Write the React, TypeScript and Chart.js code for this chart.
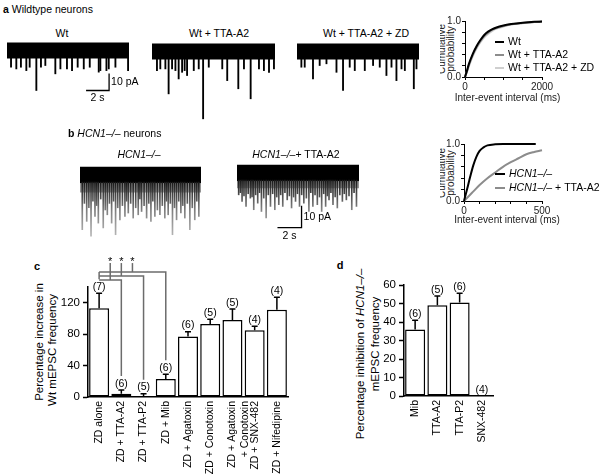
import React, { useEffect, useRef } from 'react';
import { Chart, registerables } from 'chart.js';

Chart.register(...registerables);
const FONT = 'Arial, "Liberation Sans", Helvetica, sans-serif';
Chart.defaults.font.family = FONT;
Chart.defaults.color = '#000';

// ---------------- data ----------------
// panel a traces: spike times (s) and amplitudes (pA, downward)
const wtTimes = [0.35, 0.81, 1.21, 1.68, 1.97, 2.55, 2.95, 3.33, 4.2, 4.64, 5.21, 5.65, 6.14, 6.67, 7.19, 7.97, 8.11, 8.64, 8.84, 9.42, 10.52];
const wtAmps = [9.8, 10.8, 9.8, 11.8, 9.8, 23.5, 9.8, 8.8, 13.7, 10.8, 10.8, 11.8, 9.8, 10.8, 9.8, 12.7, 11.8, 11.8, 10.8, 9.8, 11.8];
const wtTtaTimes = [0.43, 0.72, 1.16, 1.44, 1.74, 2.03, 2.31, 2.61, 2.83, 3.04, 3.62, 4.05, 4.43, 4.92, 6.09, 6.52, 7.48, 7.97, 8.55, 9.27, 9.7, 10.14, 10.57];
const wtTtaAmps = [11.2, 10.2, 10.2, 24.9, 10.2, 11.2, 16.1, 12.2, 11.2, 14.1, 11.2, 10.2, 39.6, 9.2, 10.2, 17.1, 21.9, 10.2, 27.8, 10.2, 11.2, 12.2, 10.2];
const wtTtaZdTimes = [0.38, 0.67, 1.39, 1.97, 2.56, 3.43, 4.0, 4.58, 5.02, 5.89, 6.61, 7.19, 7.77, 8.21, 8.64, 9.08, 9.37, 10.15, 10.38];
const wtTtaZdAmps = [9.2, 9.2, 16.1, 8.2, 7.2, 12.2, 22.9, 9.2, 11.2, 11.2, 8.2, 9.2, 14.1, 9.2, 17.1, 10.2, 11.2, 21.9, 10.2];
// panel b traces: large events and smaller events
const hcnTimes = [0.19, 0.56, 0.92, 1.25, 1.53, 1.94, 2.28, 2.64, 2.97, 3.33, 3.75, 4.03, 4.44, 4.86, 5.14, 5.56, 5.92, 6.25, 6.67, 7.08, 7.36, 7.72, 8.06, 8.42, 8.75, 9.17, 9.58, 9.92];
const hcnAmps = [25, 21.2, 28, 19, 22, 24.2, 18.2, 22, 27.3, 20.5, 19, 17.4, 19.7, 18.2, 16.7, 19.7, 21.2, 19, 18.2, 19.7, 18.2, 27.3, 20.5, 17.4, 19.7, 25, 20.5, 19];
const hcnSmallTimes = [0.37, 0.74, 1.08, 1.39, 1.73, 2.11, 2.46, 2.8, 3.15, 3.54, 3.89, 4.23, 4.65, 5.0, 5.35, 5.74, 6.08, 6.46, 6.87, 7.22, 7.54, 7.89, 8.24, 8.58, 8.96, 9.37, 9.75];
const hcnSmallAmps = [13, 15, 12, 14, 11, 16, 13, 12, 15, 14, 12, 13, 15, 11, 14, 13, 12, 16, 14, 12, 13, 15, 12, 14, 13, 15, 12];
const hcnTtaTimes = [0.14, 0.42, 0.75, 1.11, 1.39, 1.72, 2.03, 2.42, 2.78, 3.14, 3.47, 3.8, 4.17, 4.53, 4.86, 5.19, 5.55, 5.97, 6.3, 6.67, 7.03, 7.36, 7.64, 7.97, 8.33, 8.75, 9.08, 9.53, 9.92];
const hcnTtaAmps = [10, 13, 15.3, 11.5, 16.8, 13.8, 17.6, 20.6, 15.3, 16.8, 14.5, 15.3, 12.3, 16, 13, 15.3, 13.8, 17.6, 15.3, 14.5, 17.6, 15.3, 12.3, 14.5, 16, 13, 12.3, 16.8, 15.3];
const hcnTtaSmallTimes = [0.28, 0.58, 0.93, 1.25, 1.55, 1.87, 2.22, 2.6, 2.96, 3.3, 3.63, 3.98, 4.35, 4.7, 5.02, 5.37, 5.76, 6.13, 6.48, 6.85, 7.2, 7.5, 7.8, 8.15, 8.54, 8.91, 9.3, 9.72];
const hcnTtaSmallAmps = [9, 10.5, 9.5, 11, 10, 9, 11.5, 10, 9.5, 11, 10, 9, 10.5, 11, 9.5, 10, 11.5, 9, 10, 11, 9.5, 10.5, 9, 11, 10, 9.5, 10.5, 9];

// cumulative probability curves
const cumWtX = [0, 50, 100, 200, 300, 400, 500, 600, 700, 800, 1000, 1200, 1500, 1800, 2000];
const cumWtY = [0, 0.11, 0.23, 0.41, 0.55, 0.66, 0.75, 0.81, 0.85, 0.88, 0.92, 0.945, 0.97, 0.985, 0.99];
const cumWtTtaY = [0, 0.1, 0.21, 0.39, 0.53, 0.64, 0.73, 0.79, 0.84, 0.87, 0.91, 0.94, 0.965, 0.98, 0.99];
const cumWtTtaZdY = [0, 0.09, 0.19, 0.37, 0.51, 0.62, 0.71, 0.77, 0.82, 0.86, 0.9, 0.935, 0.96, 0.98, 0.99];
const cumHcnX = [0, 20, 40, 60, 80, 100, 125, 150, 200, 250, 460];
const cumHcnY = [0, 0.21, 0.43, 0.63, 0.78, 0.88, 0.94, 0.975, 0.995, 1, 1];
const cumHcnTtaX = [0, 50, 100, 150, 200, 250, 300, 350, 400, 450, 500, 530];
const cumHcnTtaY = [0, 0.14, 0.28, 0.4, 0.5, 0.6, 0.68, 0.75, 0.82, 0.86, 0.89, 0.91];

// panel c
const cCategories: any[] = ['ZD alone', 'ZD + TTA-A2', 'ZD + TTA-P2', 'ZD + Mib', 'ZD + Agatoxin', 'ZD + Conotoxin', ['ZD + Agatoxin', '+ Conotoxin'], 'ZD + SNX-482', 'ZD + Nifedipine'];
const cValues = [113, 4, 1, 23, 77, 93, 98, 85, 111];
const cErrors = [19, 5, 3, 6, 6, 6, 14, 5, 16];
const cN = [7, 6, 5, 6, 6, 5, 5, 4, 4];
const cTicks = { max: 140, step: 20 };
const cComparisons = [[0, 1], [0, 2], [0, 3]];

// panel d
const dCategories = ['Mib', 'TTA-A2', 'TTA-P2', 'SNX-482'];
const dValues = [36, 49, 50.5, 0];
const dErrors = [5, 5, 5, 0];
const dN = [6, 5, 6, 4];
const dTicks = { max: 60, step: 10 };

// ---------------- helpers ----------------
type Seg = { t: string; it?: boolean };
function drawText(ctx: any, segs: Seg[], x: number, y: number, opt: any = {}) {
  const size = opt.size ?? 10;
  ctx.save();
  ctx.textBaseline = 'middle';
  ctx.textAlign = 'left';
  ctx.fillStyle = opt.color ?? '#000';
  const fonts = segs.map((s) => `${s.it ? 'italic ' : ''}${size}px ${FONT}`);
  const widths = segs.map((s, i) => { ctx.font = fonts[i]; return ctx.measureText(s.t).width; });
  const total = widths.reduce((a, b) => a + b, 0);
  let cx = opt.align === 'left' ? x : x - total / 2;
  segs.forEach((s, i) => { ctx.font = fonts[i]; ctx.fillText(s.t, cx, y); cx += widths[i]; });
  ctx.restore();
}

function ChartBox({ left, top, width, height, make }: any) {
  const ref = useRef<HTMLCanvasElement>(null);
  useEffect(() => {
    const chart = new Chart(ref.current as any, make());
    return () => chart.destroy();
  }, []);
  return (
    <canvas ref={ref} width={width} height={height}
      style={{ position: 'absolute', left, top, width, height, display: 'block' }} />
  );
}

function Txt({ x, y, children, size = 10.5, bold = false, rot = false, align = 'center', color = '#000' }: any) {
  const tr = rot ? 'translate(-50%,-50%) rotate(-90deg)' : align === 'left' ? 'translate(0,-50%)' : 'translate(-50%,-50%)';
  return (
    <div style={{ position: 'absolute', left: x, top: y, transform: tr, fontFamily: FONT, fontSize: size, fontWeight: bold ? 'bold' : 'normal', whiteSpace: 'nowrap', lineHeight: 1, color }}>
      {children}
    </div>
  );
}

// ---------------- trace charts ----------------
function traceConfig(o: any) {
  const { xMax, yMin, yMax, band, times, amps, smallTimes, smallAmps, spikeW, shaded, envelope, scaleBar, padRight } = o;
  const flat = (y: number) => [{ x: 0, y }, { x: xMax, y }];
  const datasets: any[] = [
    { type: 'line', data: flat(band), fill: '+1', backgroundColor: '#000', borderWidth: 0, pointRadius: 0, order: 5 },
    { type: 'line', data: flat(-band), fill: false, borderWidth: 0, pointRadius: 0, order: 5 },
  ];
  if (envelope) {
    datasets.push({ type: 'line', data: flat(-band), fill: '+1', backgroundColor: 'rgba(60,60,60,0.55)', borderWidth: 0, pointRadius: 0, order: 4 });
    datasets.push({ type: 'line', data: flat(-envelope), fill: false, borderWidth: 0, pointRadius: 0, order: 4 });
  }
  const grad = (c: any) => {
    const ch = c.chart;
    const area = ch.chartArea;
    if (!area) return '#666';
    const y0 = ch.scales.y.getPixelForValue(-band);
    const g = ch.ctx.createLinearGradient(0, y0, 0, area.bottom);
    g.addColorStop(0, '#1a1a1a');
    g.addColorStop(0.45, '#808080');
    g.addColorStop(1, '#c8c8c8');
    return g;
  };
  const spikes = (ts: number[], as: number[]) => ts.map((t: number, i: number) => ({ x: t, y: [-band + 0.5, -as[i]] }));
  datasets.push({ type: 'bar', data: spikes(times, amps), backgroundColor: shaded ? grad : '#000', barThickness: spikeW, grouped: false, order: 1 });
  if (smallTimes) {
    datasets.push({ type: 'bar', data: spikes(smallTimes, smallAmps), backgroundColor: shaded ? grad : '#000', barThickness: spikeW, grouped: false, order: 2 });
  }
  const sbPlugin = {
    id: 'scalebar',
    afterDraw(chart: any) {
      if (!scaleBar) return;
      const { ctx } = chart;
      const xs = chart.scales.x, ys = chart.scales.y;
      const xr = xs.getPixelForValue(scaleBar.t);
      const xl = xs.getPixelForValue(scaleBar.t - scaleBar.s);
      const yt = ys.getPixelForValue(scaleBar.y0);
      const yb = ys.getPixelForValue(scaleBar.y0 - scaleBar.pA);
      ctx.save();
      ctx.strokeStyle = '#000';
      ctx.lineWidth = 1.3;
      ctx.beginPath();
      ctx.moveTo(xr, yt); ctx.lineTo(xr, yb); ctx.lineTo(xl, yb);
      ctx.stroke();
      ctx.restore();
      drawText(ctx, [{ t: `${scaleBar.pA} pA` }], xr + 2, (yt + yb) / 2, { align: 'left', size: 10.5 });
      drawText(ctx, [{ t: `${scaleBar.s} s` }], (xl + xr) / 2, yb + 8, { size: 10.5 });
    },
  };
  return {
    type: 'bar',
    data: { datasets },
    options: {
      animation: false, responsive: false, events: [],
      layout: { padding: { left: 0, top: 0, bottom: 0, right: padRight ?? 0 } },
      scales: {
        x: { type: 'linear', min: 0, max: xMax, display: false, offset: false },
        y: { type: 'linear', min: yMin, max: yMax, display: false },
      },
      plugins: { legend: { display: false }, tooltip: { enabled: false } },
    },
    plugins: [sbPlugin],
  };
}

// ---------------- cumulative charts ----------------
function cumConfig(o: any) {
  const { series, xMax, xTicks, xLabels, padTop, padRight, yW, xH, legend, xTitleY } = o;
  const datasets = series.map((s: any) => ({
    label: s.label,
    data: s.x.map((x: number, i: number) => ({ x, y: s.y[i] })),
    borderColor: s.color, borderWidth: s.w, pointRadius: 0,
    cubicInterpolationMode: 'monotone', clip: false, order: s.order,
  }));
  const textPlugin = {
    id: 'cumtext',
    afterDraw(chart: any) {
      const { ctx, chartArea } = chart;
      drawText(ctx, [{ t: 'Inter-event interval (ms)' }], (chartArea.left + chartArea.right) / 2 + 4, xTitleY, { size: 10, color: '#222' });
      legend.rows.forEach((row: any, i: number) => {
        const ds = chart.data.datasets[row.ds];
        const y = legend.y[i];
        ctx.save();
        ctx.strokeStyle = ds.borderColor;
        ctx.lineWidth = 2;
        ctx.beginPath();
        ctx.moveTo(legend.x0, y); ctx.lineTo(legend.x1, y);
        ctx.stroke();
        ctx.restore();
        drawText(ctx, row.segs, legend.x1 + 4, y, { align: 'left', size: 10.5 });
      });
    },
  };
  return {
    type: 'line',
    data: { datasets },
    options: {
      animation: false, responsive: false, events: [],
      layout: { padding: { top: padTop, right: padRight, left: 0, bottom: 0 } },
      scales: {
        x: {
          type: 'linear', min: 0, max: xMax,
          afterBuildTicks: (s: any) => { s.ticks = xTicks.map((v: number) => ({ value: v })); },
          ticks: { autoSkip: false, maxRotation: 0, padding: 1, font: { size: 10 }, color: '#222', callback: (v: any) => (xLabels.includes(v) ? String(v) : '') },
          grid: { display: true, drawOnChartArea: false, drawTicks: true, tickLength: 3, tickColor: '#000' },
          border: { display: true, color: '#000', width: 1 },
          afterFit: (s: any) => { s.height = xH; },
        },
        y: {
          type: 'linear', min: 0, max: 1,
          afterBuildTicks: (s: any) => { s.ticks = [0, 0.2, 0.4, 0.6, 0.8, 1].map((v) => ({ value: v })); },
          ticks: { autoSkip: false, padding: 1, font: { size: 10 }, color: '#222', callback: (v: any) => (v === 0 ? '0.0' : v === 1 ? '1.0' : '') },
          grid: { display: true, drawOnChartArea: false, drawTicks: true, tickLength: 3, tickColor: '#000' },
          border: { display: true, color: '#000', width: 1 },
          afterFit: (s: any) => { s.width = yW; },
        },
      },
      plugins: { legend: { display: false }, tooltip: { enabled: false } },
    },
    plugins: [textPlugin],
  };
}

// ---------------- bar charts ----------------
function errPlugin(errors: number[], ns: number[]) {
  return {
    id: 'errbars',
    afterDatasetsDraw(chart: any) {
      const { ctx } = chart;
      const ys = chart.scales.y;
      const meta = chart.getDatasetMeta(0);
      const vals = chart.data.datasets[0].data;
      ctx.save();
      meta.data.forEach((bar: any, i: number) => {
        const top = ys.getPixelForValue(vals[i] + errors[i]);
        if (errors[i] > 0) {
          ctx.strokeStyle = '#000';
          ctx.lineWidth = 1.5;
          ctx.beginPath();
          ctx.moveTo(bar.x, bar.y); ctx.lineTo(bar.x, top);
          ctx.moveTo(bar.x - 3, top); ctx.lineTo(bar.x + 3, top);
          ctx.stroke();
        }
        ctx.fillStyle = '#000';
        ctx.font = `10.5px ${FONT}`;
        ctx.textAlign = 'center';
        ctx.textBaseline = 'bottom';
        ctx.fillText(`(${ns[i]})`, bar.x, top - 1);
      });
      ctx.restore();
    },
  };
}

function bracketPlugin(pairs: number[][], errors: number[], levels: number[], starLevel: number) {
  return {
    id: 'brackets',
    afterDatasetsDraw(chart: any) {
      const { ctx } = chart;
      const xs = chart.scales.x, ys = chart.scales.y;
      const vals = chart.data.datasets[0].data;
      const labelTop = (i: number) => ys.getPixelForValue(vals[i] + errors[i]) - 14;
      ctx.save();
      ctx.strokeStyle = '#6c6c6c';
      ctx.lineWidth = 1.5;
      const a = pairs[0][0];
      const maxL = Math.max(...levels);
      ctx.beginPath();
      ctx.moveTo(xs.getPixelForValue(a), ys.getPixelForValue(maxL));
      ctx.lineTo(xs.getPixelForValue(a), labelTop(a));
      ctx.stroke();
      pairs.forEach(([i, j], k) => {
        const yL = ys.getPixelForValue(levels[k]);
        const xi = xs.getPixelForValue(i), xj = xs.getPixelForValue(j);
        ctx.beginPath();
        ctx.moveTo(xi, yL); ctx.lineTo(xj, yL); ctx.lineTo(xj, labelTop(j));
        ctx.stroke();
        const xm = (xi + xj) / 2;
        const yS = ys.getPixelForValue(starLevel);
        ctx.beginPath();
        ctx.moveTo(xm, yS + 2); ctx.lineTo(xm, yL);
        ctx.stroke();
        ctx.fillStyle = '#000';
        ctx.font = `11px ${FONT}`;
        ctx.textAlign = 'center';
        ctx.textBaseline = 'middle';
        ctx.fillText('*', xm, yS + 1);
      });
      ctx.restore();
    },
  };
}

function barConfig(o: any) {
  const { labels, values, errors, ns, yMax, step, padTop, padRight, yW, xH, extra } = o;
  return {
    type: 'bar',
    data: {
      labels,
      datasets: [{ data: values, backgroundColor: '#fff', borderColor: '#000', borderWidth: 1.5, borderSkipped: false, barPercentage: 0.9, categoryPercentage: 1 }],
    },
    options: {
      animation: false, responsive: false, events: [],
      layout: { padding: { top: padTop, right: padRight, left: 0, bottom: 0 } },
      scales: {
        x: {
          grid: { display: true, drawOnChartArea: false, drawTicks: false },
          border: { display: true, color: '#000', width: 1.5 },
          ticks: { autoSkip: false, minRotation: 90, maxRotation: 90, padding: 4, font: { size: 10.5 }, color: '#000' },
          afterFit: (s: any) => { s.height = xH; },
        },
        y: {
          min: 0, max: yMax,
          grid: { display: true, drawOnChartArea: false, drawTicks: true, tickLength: 5, tickWidth: 1.5, tickColor: '#000' },
          border: { display: true, color: '#000', width: 1.5 },
          ticks: { stepSize: step, padding: 3, font: { size: 11.5 }, color: '#000' },
          afterFit: (s: any) => { s.width = yW; },
        },
      },
      plugins: { legend: { display: false }, tooltip: { enabled: false } },
    },
    plugins: [errPlugin(errors, ns), ...(extra || [])],
  };
}

function ClippedTitle({ left, top, height }: any) {
  return (
    <div style={{ position: 'absolute', left, top, width: 16, height, overflow: 'hidden' }}>
      <Txt x={2} y={height / 2} size={10} rot color="#222">Cumulative</Txt>
      <Txt x={11} y={height / 2} size={10} rot color="#222">probability</Txt>
    </div>
  );
}

// ---------------- app ----------------
export default function App() {
  const hcn = { t: 'HCN1–/–', it: true };
  return (
    <div style={{ position: 'absolute', left: 0, top: 0, width: 600, height: 475, background: '#fff', overflow: 'hidden', fontFamily: FONT }}>
      {/* panel a */}
      <Txt x={3} y={9} align="left"><b>a</b> Wildtype neurons</Txt>
      <Txt x={62} y={33}>Wt</Txt>
      <Txt x={219} y={33}>Wt + TTA-A2</Txt>
      <Txt x={366} y={33}>Wt + TTA-A2 + ZD</Txt>
      <ChartBox left={7} top={37} width={142} height={90} make={() => traceConfig({ xMax: 10.6, yMin: -45, yMax: 8, band: 4.7, times: wtTimes, amps: wtAmps, spikeW: 1.2, padRight: 20, scaleBar: { t: 8.87, s: 2, pA: 10, y0: -13.5 } })} />
      <ChartBox left={152} top={38} width={123} height={90} make={() => traceConfig({ xMax: 10.66, yMin: -45, yMax: 8, band: 4.7, times: wtTtaTimes, amps: wtTtaAmps, spikeW: 1.2 })} />
      <ChartBox left={297} top={38} width={122} height={90} make={() => traceConfig({ xMax: 10.6, yMin: -45, yMax: 8, band: 4.7, times: wtTtaZdTimes, amps: wtTtaZdAmps, spikeW: 1.2 })} />
      <ClippedTitle left={440} top={21} height={56} />
      <ChartBox left={440} top={10} width={160} height={95} make={() => cumConfig({
        series: [
          { label: 'Wt + TTA-A2 + ZD', x: cumWtX, y: cumWtTtaZdY, color: '#cfcfcf', w: 2, order: 3 },
          { label: 'Wt + TTA-A2', x: cumWtX, y: cumWtTtaY, color: '#8c8c8c', w: 2, order: 2 },
          { label: 'Wt', x: cumWtX, y: cumWtY, color: '#000', w: 2, order: 1 },
        ],
        xMax: 2000, xTicks: [0, 500, 1000, 1500, 2000], xLabels: [0, 2000],
        padTop: 11, padRight: 58, yW: 25, xH: 28, xTitleY: 88,
        legend: { x0: 55, x1: 64, y: [32, 45, 58], rows: [{ ds: 2, segs: [{ t: 'Wt' }] }, { ds: 1, segs: [{ t: 'Wt + TTA-A2' }] }, { ds: 0, segs: [{ t: 'Wt + TTA-A2 + ZD' }] }] },
      })} />

      {/* panel b */}
      <Txt x={68} y={133} align="left"><b>b</b> <i>HCN1–/–</i> neurons</Txt>
      <Txt x={139} y={154}><i>HCN1–/–</i></Txt>
      <Txt x={296} y={154}><i>HCN1–/–</i>+ TTA-A2</Txt>
      <ChartBox left={80} top={164} width={121} height={81} make={() => traceConfig({ xMax: 10.1, yMin: -32, yMax: 5, band: 3.8, times: hcnTimes, amps: hcnAmps, smallTimes: hcnSmallTimes, smallAmps: hcnSmallAmps, spikeW: 1, shaded: true, envelope: 8 })} />
      <ChartBox left={237} top={162} width={122} height={81} make={() => traceConfig({ xMax: 10.13, yMin: -32, yMax: 5, band: 3.8, times: hcnTtaTimes, amps: hcnTtaAmps, smallTimes: hcnTtaSmallTimes, smallAmps: hcnTtaSmallAmps, spikeW: 1, shaded: true, envelope: 7, scaleBar: { t: 5.36, s: 2, pA: 10, y0: -15 } })} />
      <ClippedTitle left={440} top={144} height={57} />
      <ChartBox left={440} top={130} width={160} height={95} make={() => cumConfig({
        series: [
          { label: 'HCN1–/– + TTA-A2', x: cumHcnTtaX, y: cumHcnTtaY, color: '#8c8c8c', w: 2, order: 2 },
          { label: 'HCN1–/–', x: cumHcnX, y: cumHcnY, color: '#000', w: 2, order: 1 },
        ],
        xMax: 500, xTicks: [0, 100, 200, 300, 400, 500], xLabels: [0, 500],
        padTop: 14, padRight: 58, yW: 24, xH: 24, xTitleY: 90,
        legend: { x0: 55, x1: 65, y: [44, 58], rows: [{ ds: 1, segs: [hcn] }, { ds: 0, segs: [hcn, { t: ' + TTA-A2' }] }] },
      })} />

      {/* panel c */}
      <Txt x={37} y={266} size={11} bold>c</Txt>
      <Txt x={40} y={342} size={11.5} rot>Percentage increase in</Txt>
      <Txt x={53} y={350} size={11.5} rot>Wt mEPSC frequency</Txt>
      <ChartBox left={0} top={245} width={300} height={230} make={() => barConfig({
        labels: cCategories, values: cValues, errors: cErrors, ns: cN, yMax: cTicks.max, step: cTicks.step,
        padTop: 42, padRight: 12, yW: 88, xH: 78,
        extra: [bracketPlugin(cComparisons, cErrors, [149, 154, 159], 173)],
      })} />

      {/* panel d */}
      <Txt x={340} y={265} size={11} bold>d</Txt>
      <Txt x={361} y={354} size={11.5} rot>Percentage inhibition of <i>HCN1–/–</i></Txt>
      <Txt x={376} y={344} size={11.5} rot>mEPSC frequency</Txt>
      <ChartBox left={300} top={245} width={300} height={230} make={() => barConfig({
        labels: dCategories, values: dValues, errors: dErrors, ns: dN, yMax: dTicks.max, step: dTicks.step,
        padTop: 40, padRight: 107, yW: 104, xH: 79,
      })} />
    </div>
  );
}
